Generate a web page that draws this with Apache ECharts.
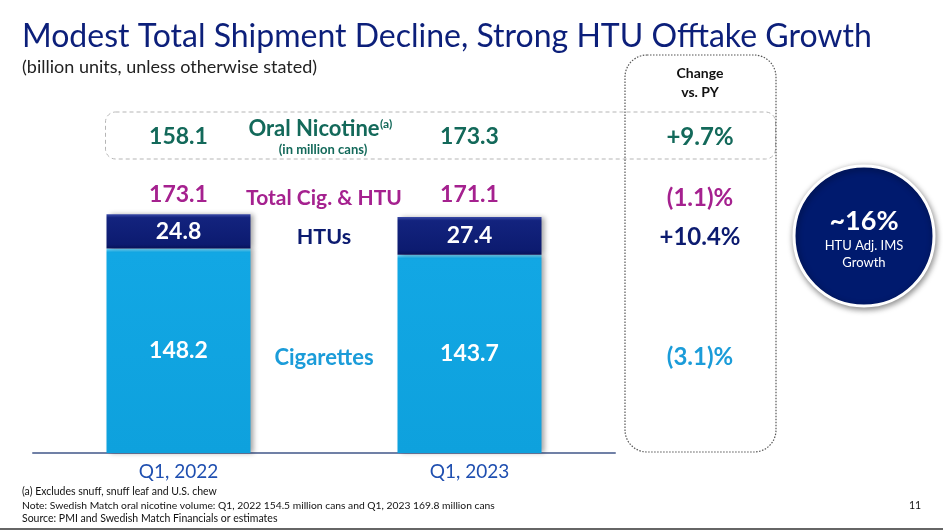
<!DOCTYPE html>
<html>
<head>
<meta charset="utf-8">
<script src="https://cdn.jsdelivr.net/npm/echarts@6/dist/echarts.min.js"></script>
<style>
html,body{margin:0;padding:0;background:#fff;}
#chart{width:943px;height:530px;}
</style>
</head>
<body>
<div id="chart"></div>
<script>
// ---- data ----
var categories = ['Q1, 2022', 'Q1, 2023'];
var cigarettes = [148.2, 143.7];
var htus = [24.8, 27.4];
var totalCigHtu = [173.1, 171.1];
var oralNicotine = [158.1, 173.3];
var changeOral = '+9.7%';
var changeTotal = '(1.1)%';
var changeHtu = '+10.4%';
var changeCig = '(3.1)%';

var FONT = 'Lato, "Open Sans", sans-serif';
var GREEN = '#13695a', MAGENTA = '#a5218f', NAVY = '#0c1b70', LIGHTBLUE = '#1b9cd9';

var chart = echarts.init(document.getElementById('chart'), null, {renderer: 'canvas'});

var option = {
  animation: false,
  grid: {left: 33, right: 328, top: 177, bottom: 77},
  xAxis: {
    type: 'category',
    data: categories,
    axisLine: {lineStyle: {color: '#7080a6', width: 2}},
    axisTick: {show: false},
    axisLabel: {color: '#1f4fb0', fontSize: 19, fontFamily: FONT, margin: 9}
  },
  yAxis: {type: 'value', min: 0, max: 200, show: false, splitLine: {show: false}},
  series: [
    {
      name: 'Cigarettes', type: 'bar', stack: 'total', barWidth: 144,
      data: cigarettes,
      itemStyle: {
        color: new echarts.graphic.LinearGradient(0, 0, 0, 1, [
          {offset: 0, color: '#7ad6f6'},
          {offset: 0.018, color: '#12a7e4'},
          {offset: 1, color: '#0ea1dd'}
        ]),
        shadowColor: 'rgba(0,0,0,0.35)', shadowBlur: 5, shadowOffsetX: 3, shadowOffsetY: 0
      },
      label: {show: true, position: 'inside', color: '#fff', fontSize: 23, fontWeight: 'bold', fontFamily: FONT}
    },
    {
      name: 'HTUs', type: 'bar', stack: 'total', barWidth: 144,
      data: htus,
      itemStyle: {
        color: new echarts.graphic.LinearGradient(0, 0, 0, 1, [
          {offset: 0, color: '#3b4ba8'},
          {offset: 0.1, color: '#13237e'},
          {offset: 0.88, color: '#0c1b70'},
          {offset: 1, color: '#07125a'}
        ]),
        shadowColor: 'rgba(0,0,0,0.35)', shadowBlur: 5, shadowOffsetX: 3, shadowOffsetY: 0
      },
      label: {show: true, position: 'inside', color: '#fff', fontSize: 23, fontWeight: 'bold', fontFamily: FONT}
    }
  ]
};
chart.setOption(option);

var x0 = chart.convertToPixel({xAxisIndex: 0}, categories[0]);
var x1 = chart.convertToPixel({xAxisIndex: 0}, categories[1]);
var xm = (x0 + x1) / 2;
var xc = 700;

function txt(x, y, text, size, color, weight, align) {
  return {type: 'text', z: 100, style: {
    x: x, y: y, text: text, fill: color,
    font: (weight || 'normal') + ' ' + size + 'px ' + FONT,
    textAlign: align || 'center', textVerticalAlign: 'middle'
  }};
}

var g = [
  // title
  txt(22, 37, 'Modest Total Shipment Decline, Strong HTU Offtake Growth', 32, '#0c1f7a', 'normal', 'left'),
  txt(22, 67, '(billion units, unless otherwise stated)', 18, '#222', 'normal', 'left'),
  // boxes
  {type: 'rect', z: 10, shape: {x: 105.5, y: 112, width: 670, height: 47, r: 10},
    style: {fill: 'none', stroke: '#b5b5b5', lineWidth: 1, lineDash: [4, 3]}},
  {type: 'rect', z: 10, shape: {x: 625, y: 55, width: 151, height: 397, r: 22},
    style: {fill: 'none', stroke: '#555', lineWidth: 1.2, lineDash: [1.5, 1.5]}},
  txt(xc, 73, 'Change', 14, '#111', 'bold'),
  txt(xc, 92, 'vs. PY', 14, '#111', 'bold'),
  // oral nicotine row
  txt(x0, 137, oralNicotine[0].toFixed(1), 23, GREEN, 'bold'),
  txt(x1, 137, oralNicotine[1].toFixed(1), 23, GREEN, 'bold'),
  txt(xm - 10, 129, 'Oral Nicotine', 22, GREEN, 'bold'),
  txt(380, 124, '(a)', 12, GREEN, 'bold', 'left'),
  txt(xm - 1, 150, '(in million cans)', 13, GREEN, 'bold'),
  txt(xc, 137, changeOral, 24, GREEN, 'bold'),
  // total row
  txt(x0, 195, totalCigHtu[0].toFixed(1), 23, MAGENTA, 'bold'),
  txt(x1, 195, totalCigHtu[1].toFixed(1), 23, MAGENTA, 'bold'),
  txt(xm, 198, 'Total Cig. & HTU', 21, MAGENTA, 'bold'),
  txt(xc, 198, changeTotal, 24, MAGENTA, 'bold'),
  // HTU row
  txt(xm, 237, 'HTUs', 21.5, NAVY, 'bold'),
  txt(xc, 237, changeHtu, 24, NAVY, 'bold'),
  // cigarettes row
  txt(xm, 358, 'Cigarettes', 22, LIGHTBLUE, 'bold'),
  txt(xc, 357, changeCig, 24, LIGHTBLUE, 'bold'),
  // circle
  {type: 'circle', z: 20, shape: {cx: 864, cy: 236, r: 70},
    style: {fill: '#001a6e', stroke: '#fff', lineWidth: 3,
      shadowColor: 'rgba(0,0,0,0.45)', shadowBlur: 6, shadowOffsetX: 1, shadowOffsetY: 2}},
  txt(864, 221, '~16%', 27, '#fff', 'bold'),
  txt(864, 246, 'HTU Adj. IMS', 13, '#fff', 'normal'),
  txt(864, 263, 'Growth', 13, '#fff', 'normal'),
  // footnotes
  txt(22, 492, '(a) Excludes snuff, snuff leaf and U.S. chew', 10.5, '#111', 'normal', 'left'),
  txt(22, 506, 'Note: Swedish Match oral nicotine volume: Q1, 2022 154.5 million cans and Q1, 2023 169.8 million cans', 10.3, '#111', 'normal', 'left'),
  txt(22, 519, 'Source: PMI and Swedish Match Financials or estimates', 10.5, '#111', 'normal', 'left'),
  txt(915, 506, '11', 10.5, '#111', 'normal'),
  {type: 'line', z: 10, shape: {x1: 0, y1: 529, x2: 943, y2: 529}, style: {stroke: '#666', lineWidth: 2}}
];
chart.setOption({graphic: g});
</script>
</body>
</html>
